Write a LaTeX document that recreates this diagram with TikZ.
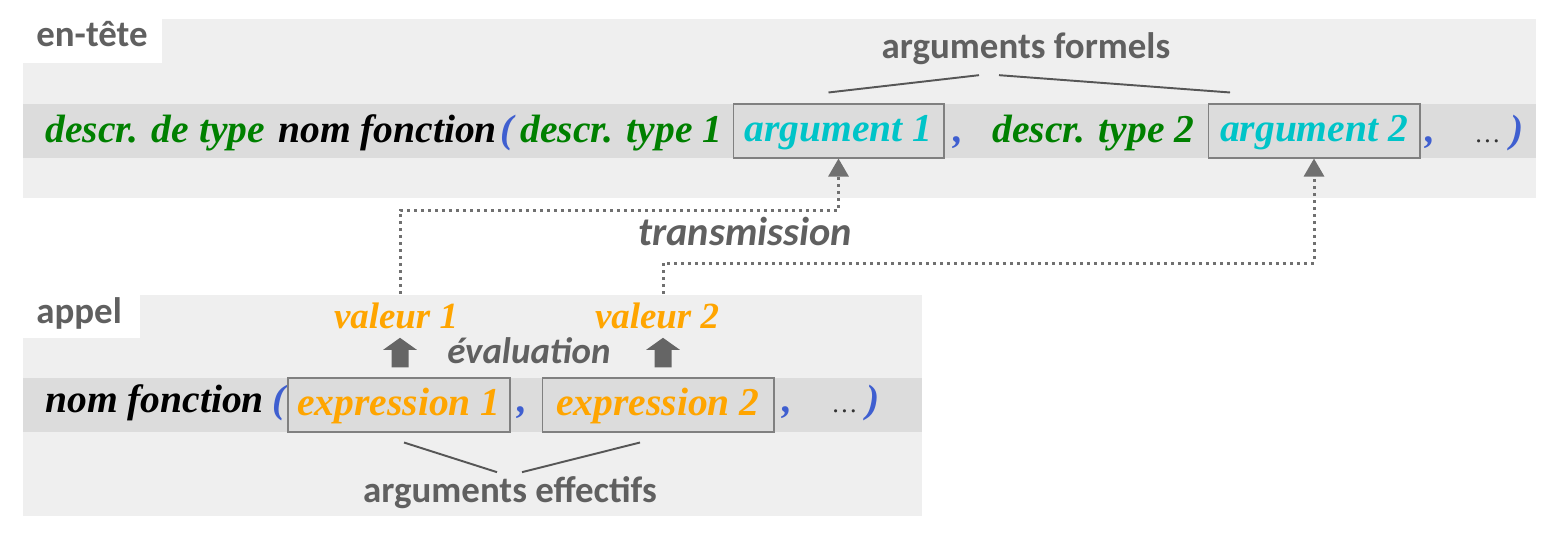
\documentclass[tikz,border=0pt]{standalone}
\usepackage{fontspec}
\setmainfont{Liberation Serif}
\newfontfamily\labelfont{Carlito}
\usepackage{tikz}
\usetikzlibrary{arrows.meta}

\definecolor{panelgray}{HTML}{EFEFEF}
\definecolor{bandgray}{HTML}{DCDCDC}
\definecolor{labelgray}{HTML}{606060}
\definecolor{typegreen}{HTML}{008000}
\definecolor{argcyan}{HTML}{00C4C8}
\definecolor{exprorange}{HTML}{FFA500}
\definecolor{parenblue}{HTML}{3F5FD0}
\definecolor{dotgray}{HTML}{707070}

\begin{document}
\begin{tikzpicture}[x=0.02cm, y=-0.02cm,
  code/.style={inner sep=0pt, anchor=base west, font=\fontsize{22.5}{27}\selectfont\bfseries\itshape},
  label/.style={inner sep=0pt, text=labelgray, font=\labelfont\fontsize{21}{25}\selectfont\bfseries},
  argbox/.style={draw=gray, line width=0.6pt, fill=bandgray, minimum height=1.08cm, inner sep=0pt,
    text height=17pt, text depth=4.5pt, font=\fontsize{22.5}{27}\selectfont\bfseries\itshape},
  value/.style={inner sep=0pt, anchor=base, text=exprorange, font=\fontsize{21}{25}\selectfont\bfseries\itshape},
  transfer/.style={dotgray, line width=0.06cm, dash pattern=on 0.06cm off 0.08cm,
    -{Triangle[width=0.4cm, length=0.36cm, sep=0pt]}},
  evalarrow/.style={draw=dotgray!90!black, line width=0.34cm, shorten <=0.2cm, shorten >=0.18cm,
    -{Triangle[width=0.66cm, length=0.24cm]}},
  brace/.style={draw=labelgray!90!black, line width=1.1pt}]
\useasboundingbox (0,0) rectangle (1559,541);

% en-tete panel
\fill[panelgray] (23,19) rectangle (1536,198);
\fill[white] (23,19) rectangle (162,63);
\fill[bandgray] (23,104) rectangle (1536,158);
\node[label, anchor=base west] (entete) at (36,47) {en-tête};
\node[label, anchor=base] (formels) at (1026,58) {arguments formels};

\node[code, text=typegreen] (typ) at (45,142) {descr. de type};
\node[code, text=black] (nomA) at (278,142) {nom fonction};
\node[code, text=parenblue] (parA) at (500,142) {(};
\node[code, text=typegreen] (typA) at (520,142) {descr. type 1};
\node[argbox, text=argcyan, minimum width=4.22cm] (arg1) at (838.5,131) {argument 1};
\node[code, text=parenblue] (comA) at (953,142) {,};
\node[code, text=typegreen] (typB) at (992,142) {descr. type 2};
\node[argbox, text=argcyan, minimum width=4.24cm] (arg2) at (1314,131) {argument 2};
\node[code, text=parenblue] (comB) at (1425,142) {,};
\node[code, text=black!80, font=\fontsize{15}{18}\selectfont] (dotsA) at (1474,142) {…};
\node[code, text=parenblue] (parB) at (1510,142) {)};

\draw[brace] ([xshift=-0.94cm, yshift=-0.54cm]formels.center) -- ([xshift=-0.2cm, yshift=0.22cm]arg1.north);
\draw[brace] ([xshift=-0.54cm, yshift=-0.54cm]formels.center) -- ([xshift=-1.68cm, yshift=0.22cm]arg2.north);

% appel panel
\fill[panelgray] (23,295) rectangle (922,516);
\fill[white] (23,295) rectangle (140,338);
\fill[bandgray] (23,378) rectangle (922,432);
\node[label, anchor=base west] (appel) at (36,323) {appel};
\node[label, anchor=base] (effectifs) at (510,502) {arguments effectifs};

\node[code, text=black] (nomB) at (45,412) {nom fonction};
\node[code, text=parenblue] (parC) at (272,412) {(};
\node[argbox, text=exprorange, minimum width=4.44cm] (expr1) at (399,405) {expression 1};
\node[code, text=parenblue] (comC) at (517,412) {,};
\node[argbox, text=exprorange, minimum width=4.64cm] (expr2) at (658,405) {expression 2};
\node[code, text=parenblue] (comD) at (782,412) {,};
\node[code, text=black!80, font=\fontsize{15}{18}\selectfont] (dotsB) at (831,412) {…};
\node[code, text=parenblue] (parD) at (866,412) {)};

\draw[brace] ([xshift=0.1cm, yshift=-0.2cm]expr1.south) -- ([xshift=-0.26cm, yshift=0.4cm]effectifs.center);
\draw[brace] ([xshift=0.24cm, yshift=0.4cm]effectifs.center) -- ([xshift=-0.36cm, yshift=-0.2cm]expr2.south);

% evaluation
\node[value] (val1) at (396,328) {valeur 1};
\node[value] (val2) at (657,328) {valeur 2};
\node[label, anchor=base west, font=\labelfont\fontsize{21}{25}\selectfont\bfseries\itshape] (evaluation) at (447,363) {évaluation};
\draw[evalarrow] ([xshift=0.02cm]expr1.north) -- ([xshift=0.08cm]val1.south);
\draw[evalarrow] ([xshift=0.1cm]expr2.north) -- ([xshift=0.12cm]val2.south);

% transmission
\node[label, anchor=base west, font=\labelfont\fontsize{23}{27}\selectfont\bfseries\itshape] (transmission) at (638,245) {transmission};
\coordinate (bendA) at (838.5,210);
\coordinate (bendB) at (1314,263);
\draw[transfer] ([xshift=0.08cm, yshift=0.16cm]val1.north) |- (bendA) -- (arg1.south);
\draw[transfer] ([xshift=0.12cm, yshift=0.16cm]val2.north) |- (bendB) -- (arg2.south);
\end{tikzpicture}
\end{document}
